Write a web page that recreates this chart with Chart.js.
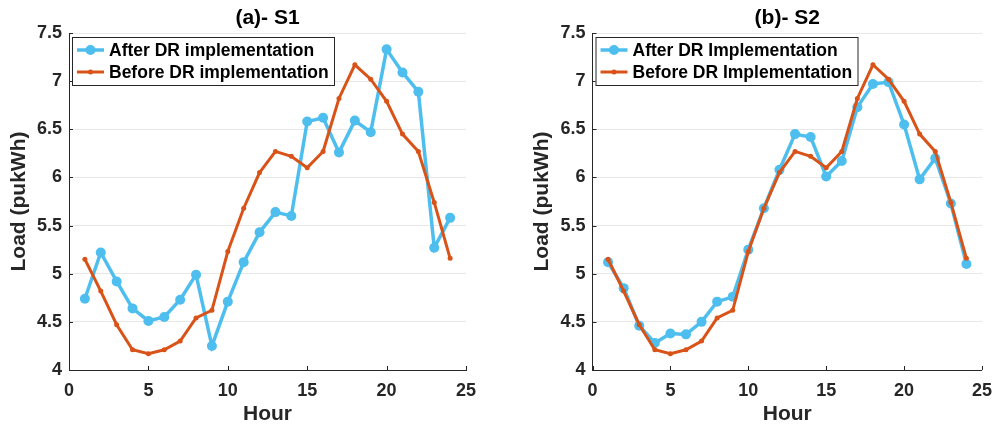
<!DOCTYPE html>
<html>
<head>
<meta charset="utf-8">
<script src="https://cdn.jsdelivr.net/npm/chart.js@4.4.1/dist/chart.umd.min.js"></script>
<style>
  body { margin: 0; background: #fff; width: 1002px; height: 432px; position: relative; overflow: hidden; }
  .panel { position: absolute; top: 0; height: 432px; }
</style>
</head>
<body>
<div class="panel" style="left:0;width:500px"><canvas id="chartS1" width="500" height="432"></canvas></div>
<div class="panel" style="left:523px;width:479px"><canvas id="chartS2" width="479" height="432"></canvas></div>
<script>
// Data (load in pukWh, per hour)
const hours = [1, 2, 3, 4, 5, 6, 7, 8, 9, 10, 11, 12, 13, 14, 15, 16, 17, 18, 19, 20, 21, 22, 23, 24];
const s1After = [4.74, 5.22, 4.92, 4.64, 4.51, 4.55, 4.73, 4.99, 4.25, 4.71, 5.12, 5.43,
                 5.64, 5.60, 6.58, 6.62, 6.26, 6.59, 6.47, 7.33, 7.09, 6.89, 5.27, 5.58];
const s1Before = [5.15, 4.82, 4.47, 4.21, 4.17, 4.21, 4.30, 4.54, 4.62, 5.23, 5.68, 6.05,
                  6.27, 6.22, 6.10, 6.27, 6.82, 7.17, 7.02, 6.79, 6.45, 6.27, 5.74, 5.16];
const s2After = [5.12, 4.85, 4.46, 4.28, 4.38, 4.37, 4.50, 4.71, 4.76, 5.25, 5.68, 6.08,
                 6.45, 6.42, 6.01, 6.17, 6.73, 6.97, 6.99, 6.55, 5.98, 6.20, 5.73, 5.10];
const s2Before = [5.15, 4.82, 4.47, 4.21, 4.17, 4.21, 4.30, 4.54, 4.62, 5.23, 5.68, 6.05,
                  6.27, 6.22, 6.10, 6.27, 6.82, 7.17, 7.02, 6.79, 6.45, 6.27, 5.74, 5.16];
const xTicks = [0, 5, 10, 15, 20, 25];
const yTicks = [4, 4.5, 5, 5.5, 6, 6.5, 7, 7.5];

const blue = '#4DBEEE';
const red = '#D95319';
const axisColor = '#262626';

Chart.defaults.font.family = "'Liberation Sans', Arial, Helvetica, sans-serif";

// legend with a frame, drawn inside the plot area (top left)
const boxLegend = {
    id: 'boxLegend',
    afterDatasetsDraw(chart, args, opts) {
        const ctx = chart.ctx;
        const left = chart.chartArea.left + opts.dx;
        const top = chart.chartArea.top + opts.dy;
        ctx.save();
        ctx.fillStyle = '#fff';
        ctx.fillRect(left, top, opts.width, opts.height);
        ctx.strokeStyle = axisColor;
        ctx.lineWidth = 1;
        ctx.strokeRect(left + 0.5, top + 0.5, opts.width, opts.height);
        ctx.font = 'bold 17.5px ' + Chart.defaults.font.family;
        ctx.textBaseline = 'middle';
        chart.data.datasets.forEach((ds, i) => {
            const cy = top + 13 + i * 22;
            ctx.strokeStyle = ds.borderColor;
            ctx.lineWidth = ds.borderWidth;
            ctx.beginPath();
            ctx.moveTo(left + 5, cy);
            ctx.lineTo(left + 32, cy);
            ctx.stroke();
            ctx.fillStyle = ds.pointBackgroundColor;
            ctx.beginPath();
            ctx.arc(left + 18.5, cy, ds.pointRadius, 0, Math.PI * 2);
            ctx.fill();
            ctx.fillStyle = '#000';
            ctx.fillText(ds.label, left + 37, cy + 1);
        });
        ctx.restore();
    }
};

// MATLAB style inward tick marks
const innerTicks = {
    id: 'innerTicks',
    beforeDatasetsDraw(chart) {
        const ctx = chart.ctx;
        const xs = chart.scales.x, ys = chart.scales.y;
        const area = chart.chartArea;
        ctx.save();
        ctx.strokeStyle = axisColor;
        ctx.lineWidth = 1;
        ctx.beginPath();
        xs.ticks.forEach(t => {
            const px = Math.round(xs.getPixelForValue(t.value)) + 0.5;
            ctx.moveTo(px, area.bottom);
            ctx.lineTo(px, area.bottom - 4);
        });
        ys.ticks.forEach(t => {
            const py = Math.round(ys.getPixelForValue(t.value)) + 0.5;
            ctx.moveTo(area.left, py);
            ctx.lineTo(area.left + 4, py);
        });
        ctx.stroke();
        ctx.restore();
    }
};

function makeChart(id, title, afterValues, beforeValues, afterLabel, beforeLabel, yWidth, padRight) {
    return new Chart(document.getElementById(id), {
        type: 'line',
        data: {
            datasets: [{
                label: afterLabel,
                data: hours.map((h, i) => ({ x: h, y: afterValues[i] })),
                borderColor: blue,
                backgroundColor: blue,
                pointBackgroundColor: blue,
                pointBorderColor: blue,
                borderWidth: 3.5,
                pointRadius: 5,
                pointBorderWidth: 0,
                tension: 0,
                order: 2
            }, {
                label: beforeLabel,
                data: hours.map((h, i) => ({ x: h, y: beforeValues[i] })),
                borderColor: red,
                backgroundColor: red,
                pointBackgroundColor: red,
                pointBorderColor: red,
                borderWidth: 3,
                pointRadius: 2.5,
                pointBorderWidth: 0,
                tension: 0,
                order: 1
            }]
        },
        options: {
            responsive: false,
            animation: false,
            layout: { padding: { left: 0, right: padRight, top: 0, bottom: 0 } },
            plugins: {
                legend: { display: false },
                tooltip: { enabled: false },
                title: {
                    display: true,
                    text: title,
                    fullSize: false,
                    color: '#000',
                    font: { size: 21, weight: 'bold' },
                    padding: { top: 5.5, bottom: 2.3 }
                },
                boxLegend: { dx: 3, dy: 4, width: 262, height: 48 }
            },
            scales: {
                x: {
                    type: 'linear',
                    min: 0,
                    max: 25,
                    afterBuildTicks: s => { s.ticks = xTicks.map(v => ({ value: v })); },
                    afterFit: s => { s.height = 62; },
                    grid: { display: false, drawTicks: false },
                    border: { display: true, color: axisColor, width: 1 },
                    ticks: { color: axisColor, font: { size: 18, weight: 'bold' }, padding: 10, maxRotation: 0,
                             callback: v => String(v) },
                    title: {
                        display: true, text: 'Hour', color: axisColor,
                        font: { size: 21, weight: 'bold' }, padding: { top: 0, bottom: 5 }
                    }
                },
                y: {
                    min: 4,
                    max: 7.5,
                    afterBuildTicks: s => { s.ticks = yTicks.map(v => ({ value: v })); },
                    afterFit: s => { s.width = yWidth; },
                    grid: { color: '#e8e8e8', lineWidth: 1, drawTicks: false },
                    border: { display: true, color: axisColor, width: 1 },
                    ticks: { color: axisColor, font: { size: 18, weight: 'bold' }, padding: 7,
                             callback: v => String(v) },
                    title: {
                        display: true, text: 'Load (pukWh)', color: axisColor,
                        font: { size: 21, weight: 'bold' }, padding: { top: 7, bottom: 0 }
                    }
                }
            }
        },
        plugins: [innerTicks, boxLegend]
    });
}

makeChart('chartS1', '(a)- S1', s1After, s1Before, 'After DR implementation', 'Before DR implementation', 69, 34);
makeChart('chartS2', '(b)- S2', s2After, s2Before, 'After DR Implementation', 'Before DR Implementation', 69.5, 13.7);
</script>
</body>
</html>
